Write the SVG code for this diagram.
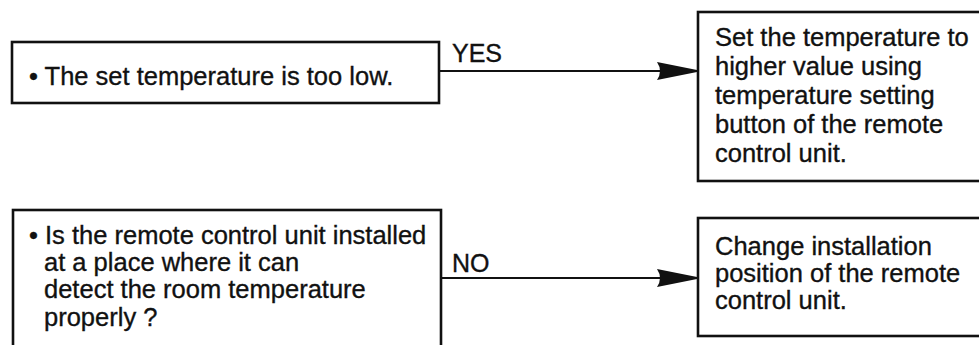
<svg xmlns="http://www.w3.org/2000/svg" width="979" height="345" viewBox="0 0 979 345">
  <style>
    .box { fill: #ffffff; stroke: #111111; stroke-width: 2.6; }
    .txt { font-family: "Liberation Sans", Arial, Helvetica, sans-serif; font-size: 25.5px; fill: #111111; stroke: #111111; stroke-width: 0.35; }
    .lbl { font-family: "Liberation Sans", Arial, Helvetica, sans-serif; font-size: 25px; fill: #111111; stroke: #111111; stroke-width: 0.35; }
    .conn { stroke: #111111; stroke-width: 2.2; fill: none; }
  </style>
  <defs>
    <marker id="arrow" viewBox="0 0 40 18" refX="40" refY="9" markerWidth="40" markerHeight="18" markerUnits="userSpaceOnUse" orient="auto">
      <path d="M0,0 L40,8 L40,10 L0,18 Q6,9 0,0 Z" fill="#111111"/>
    </marker>
  </defs>
  <rect width="979" height="345" fill="#ffffff"/>

  <g id="node-too-low">
    <rect class="box" x="12" y="42" width="427" height="61"/>
    <text class="txt" x="29" y="85">• The set temperature is too low.</text>
  </g>

  <g id="node-set-higher">
    <rect class="box" x="698" y="12" width="300" height="169"/>
    <text class="txt">
      <tspan x="715" y="46">Set the temperature to</tspan>
      <tspan x="715" y="75">higher value using</tspan>
      <tspan x="715" y="104">temperature setting</tspan>
      <tspan x="715" y="133">button of the remote</tspan>
      <tspan x="715" y="162">control unit.</tspan>
    </text>
  </g>

  <g id="node-installed">
    <rect class="box" x="13" y="210" width="428" height="150"/>
    <text class="txt">
      <tspan x="29" y="244">• Is the remote control unit installed</tspan>
      <tspan x="44" y="271">at a place where it can</tspan>
      <tspan x="44" y="298">detect the room temperature</tspan>
      <tspan x="44" y="326">properly ?</tspan>
    </text>
  </g>

  <g id="node-change-position">
    <rect class="box" x="698" y="218" width="300" height="118"/>
    <text class="txt">
      <tspan x="715" y="255">Change installation</tspan>
      <tspan x="715" y="282">position of the remote</tspan>
      <tspan x="715" y="309">control unit.</tspan>
    </text>
  </g>

  <g id="connectors">
    <line class="conn" x1="440" y1="71" x2="697" y2="71" marker-end="url(#arrow)"/>
    <text class="lbl" x="452" y="62">YES</text>
    <line class="conn" x1="442" y1="278" x2="697" y2="278" marker-end="url(#arrow)"/>
    <text class="lbl" x="452" y="272">NO</text>
  </g>
</svg>
